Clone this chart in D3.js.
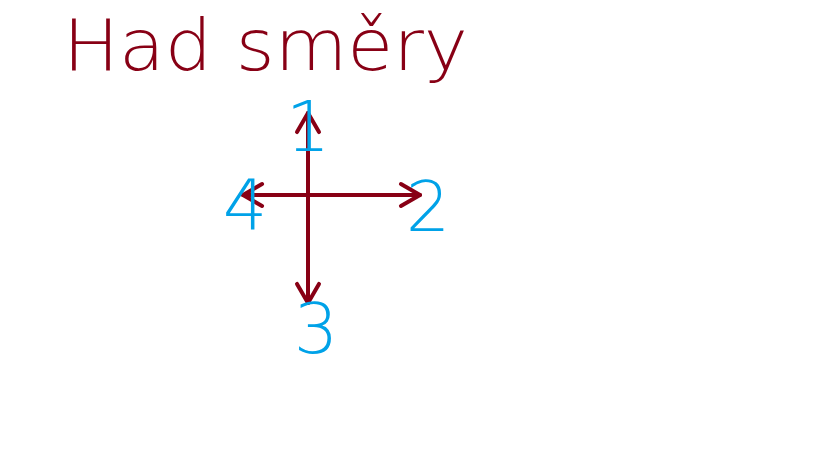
<!DOCTYPE html>
<html>
<head>
<meta charset="utf-8">
<script src="https://cdn.jsdelivr.net/npm/d3@7"></script>
<style>
  html, body { margin: 0; padding: 0; background: #ffffff; }
  svg { display: block; }
</style>
</head>
<body>
<svg width="819" height="460"></svg>
<script>
// směry hada: název, jednotkový vektor, délka ramene (v jednotkách osy), popisek
const directions = ["nahoru", "doprava", "dolu", "doleva"];
const dirX = [0, 1, 0, -1];
const dirY = [1, 0, -1, 0];
const armLength = [0.82, 1.12, 1.08, 0.65];
const labels = ["1", "2", "3", "4"];
const title = "Had směry";

const width = 819, height = 460;
const svg = d3.select("svg").attr("width", width).attr("height", height);

const red = "#880015";
const blue = "#00a2e8";

// středový bod kříže a měřítka
const cx = 308, cy = 195;
const x = d3.scaleLinear().domain([-1, 1]).range([cx - 100, cx + 100]);
const y = d3.scaleLinear().domain([-1, 1]).range([cy + 100, cy - 100]);

// nadpis
svg.append("text")
  .attr("x", 63)
  .attr("y", 70)
  .attr("textLength", 405)
  .attr("lengthAdjust", "spacingAndGlyphs")
  .attr("font-family", "DejaVu Sans, sans-serif")
  .attr("font-weight", 200)
  .attr("font-size", 72)
  .attr("fill", red)
  .text(title);

const arms = directions.map((d, i) => ({
  name: d,
  dx: dirX[i],
  dy: dirY[i],
  len: armLength[i],
  label: labels[i]
}));

const g = svg.append("g");

// ramena
g.selectAll("line.arm")
  .data(arms)
  .join("line")
  .attr("class", "arm")
  .attr("x1", x(0))
  .attr("y1", y(0))
  .attr("x2", d => x(d.dx * d.len))
  .attr("y2", d => y(d.dy * d.len))
  .attr("stroke", red)
  .attr("stroke-width", 4)
  .attr("stroke-linecap", "round");

// hroty šipek
const headLen = 22, headAng = Math.PI / 6;
g.selectAll("path.head")
  .data(arms)
  .join("path")
  .attr("class", "head")
  .attr("d", d => {
    const tx = x(d.dx * d.len), ty = y(d.dy * d.len);
    const ang = Math.atan2(ty - y(0), tx - x(0));
    const a1 = ang + Math.PI - headAng, a2 = ang + Math.PI + headAng;
    return `M${tx + headLen * Math.cos(a1)},${ty + headLen * Math.sin(a1)}` +
      `L${tx},${ty}` +
      `L${tx + headLen * Math.cos(a2)},${ty + headLen * Math.sin(a2)}`;
  })
  .attr("fill", "none")
  .attr("stroke", red)
  .attr("stroke-width", 4)
  .attr("stroke-linecap", "round")
  .attr("stroke-linejoin", "round");

// popisky směrů
const labelShift = { nahoru: [0, 38], doprava: [8, 36], dolu: [8, 50], doleva: [2, 34] };
g.selectAll("text.label")
  .data(arms)
  .join("text")
  .attr("class", "label")
  .attr("x", d => x(d.dx * d.len) + labelShift[d.name][0])
  .attr("y", d => y(d.dy * d.len) + labelShift[d.name][1])
  .attr("text-anchor", "middle")
  .attr("font-family", "DejaVu Sans, sans-serif")
  .attr("font-weight", 200)
  .attr("font-size", 70)
  .attr("fill", blue)
  .text(d => d.label);
</script>
</body>
</html>
